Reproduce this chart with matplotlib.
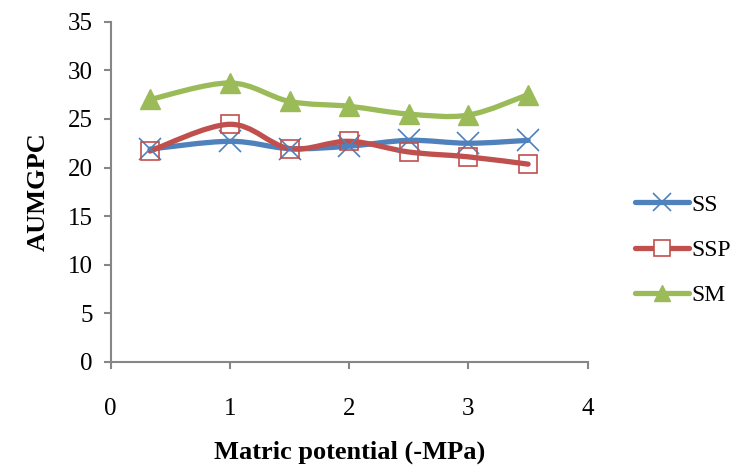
import numpy as np
import matplotlib.pyplot as plt
from matplotlib.path import Path
from matplotlib.patches import PathPatch
from matplotlib.lines import Line2D

plt.rcParams['font.family'] = ['Liberation Serif', 'DejaVu Serif']

# data
x = [0.33, 1.0, 1.5, 2.0, 2.5, 3.0, 3.5]
ss = [21.9, 22.7, 21.95, 22.2, 22.8, 22.5, 22.8]
ssp = [21.7, 24.45, 21.95, 22.7, 21.6, 21.1, 20.35]
sm = [27.0, 28.7, 26.8, 26.3, 25.5, 25.4, 27.5]
names = ['SS', 'SSP', 'SM']
colors = ['#4F81BD', '#C0504D', '#9BBB59']
markers = ['x', 's', '^']


def smooth_path(xs, ys):
    # Excel style smoothed line: cubic bezier with catmull-rom control points
    p = np.column_stack([xs, ys])
    verts = [p[0]]
    codes = [Path.MOVETO]
    n = len(p)
    for i in range(n - 1):
        p0 = p[i - 1] if i > 0 else p[i]
        p3 = p[i + 2] if i + 2 < n else p[i + 1]
        c1 = p[i] + (p[i + 1] - p0) / 6.0
        c2 = p[i + 1] - (p3 - p[i]) / 6.0
        verts += [c1, c2, p[i + 1]]
        codes += [Path.CURVE4] * 3
    return Path(verts, codes)


fig = plt.figure(figsize=(7.39, 4.70), dpi=100)
ax = fig.add_axes([0.1498, 0.2298, 0.6455, 0.724])

handles = []
for ys, c, m, nm in zip([ss, ssp, sm], colors, markers, names):
    ax.add_patch(PathPatch(smooth_path(x, ys), facecolor='none', edgecolor=c,
                           lw=3.8, capstyle='round', joinstyle='round', zorder=2))
    if m == 'x':
        ax.plot(x, ys, ls='none', marker='x', ms=16, mew=1.2, color=c, zorder=3)
        h = Line2D([], [], color=c, lw=3.8, marker='x', ms=13, mew=1.2)
    elif m == 's':
        ax.plot(x, ys, ls='none', marker='s', ms=13, mew=1.2, mfc='none', mec=c, zorder=3)
        h = Line2D([], [], color=c, lw=3.8, marker='s', ms=11, mew=1.2, mfc='white', mec=c)
    else:
        ax.plot(x, ys, ls='none', marker='^', ms=14, color=c, mec=c, zorder=3)
        h = Line2D([], [], color=c, lw=3.8, marker='^', ms=12, mec=c)
    h.set_solid_capstyle('round')
    handles.append(h)

ax.set_xlim(0, 4)
ax.set_ylim(0, 35)
ax.set_xticks(np.arange(0, 5, 1))
ax.set_yticks(np.arange(0, 36, 5))
for s in ['top', 'right']:
    ax.spines[s].set_visible(False)
for s in ['left', 'bottom']:
    ax.spines[s].set_color('#868686')
    ax.spines[s].set_linewidth(1.5)
ax.tick_params(axis='both', colors='#868686', labelcolor='black', labelsize=18,
               length=5, width=1.5, direction='out')
ax.tick_params(axis='x', pad=21)
ax.tick_params(axis='y', pad=8)

ax.set_xlabel('Matric potential (-MPa)', fontsize=19, fontweight='bold', labelpad=15)
ax.set_ylabel('AUMGPC', fontsize=19, fontweight='bold', labelpad=13)

fig.legend(handles, names, loc='upper left', bbox_to_anchor=(0.830, 0.632),
           frameon=False, fontsize=17, handlelength=2.3, handletextpad=0.1,
           labelspacing=1.0)

fig.savefig('out.png', dpi=100)
